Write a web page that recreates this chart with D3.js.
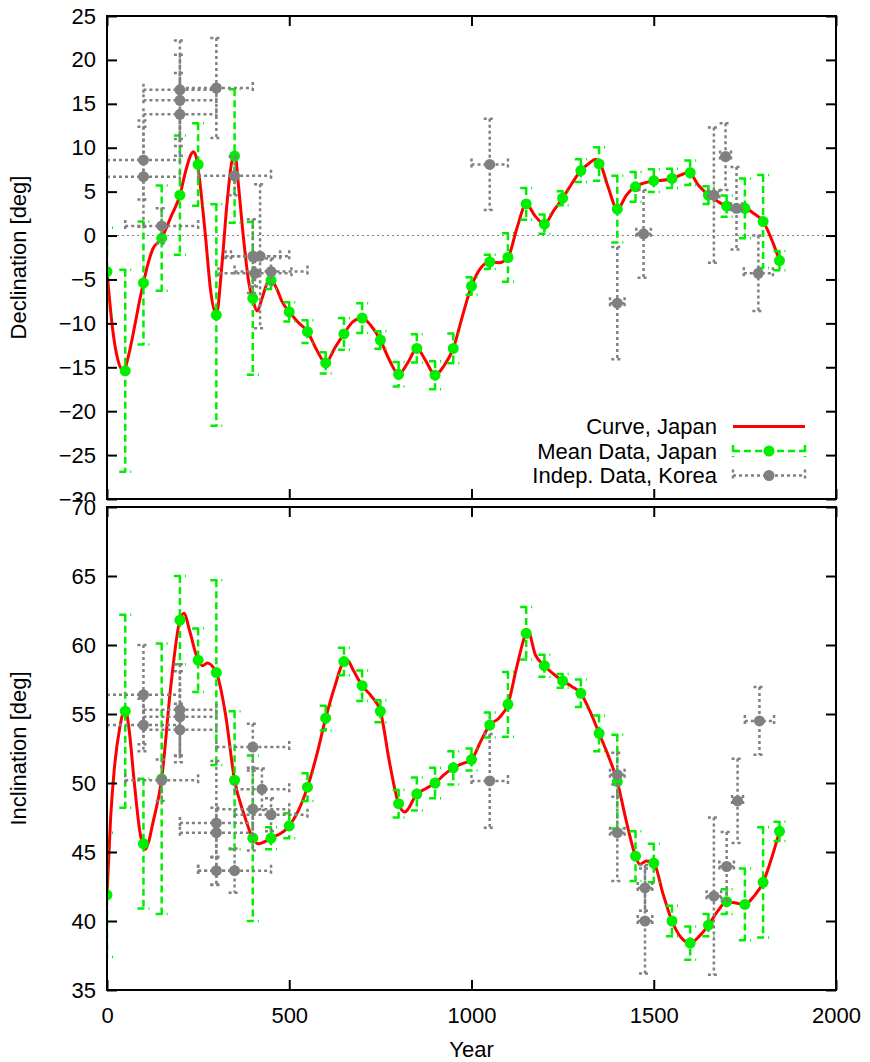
<!DOCTYPE html>
<html>
<head>
<meta charset="utf-8">
<script src="https://cdn.jsdelivr.net/npm/d3@7"></script>
<style>
  body { margin: 0; background: #fff; }
  text { font-family: "Liberation Sans", Arial, sans-serif; }
</style>
</head>
<body>
<div id="chart"></div>
<script>
// Declare data
const meanYears = [0,50,100,150,200,250,300,350,400,450,500,550,600,650,700,750,800,850,900,950,1000,
  1050,1100,1150,1200,1250,1300,1350,1400,1450,1500,1550,1600,1650,1700,1750,1800,1845];
const meanDec = [-4.1,-15.4,-5.4,-0.3,4.6,8.1,-9.05,9.05,-7.15,-5.1,-8.7,-10.95,-14.5,-11.2,-9.4,-11.9,-15.8,
  -12.85,-15.9,-12.85,-5.75,-3.0,-2.5,3.6,1.3,4.25,7.4,8.15,3.0,5.55,6.25,6.5,7.15,4.6,3.35,3.1,1.6,-2.85];
const meanDecErr = [5,11.5,7,6,6.8,4.7,12.6,7.6,8.7,1,1.1,1.3,1.2,1.8,1.7,1,1.4,1.6,1.6,1.7,1,0.8,2.75,1.8,
  1.1,0.8,1.3,1.9,3.8,1.7,1.3,1.1,1.4,1.0,1.2,3.4,5.3,1.1];
const meanInc = [41.9,55.2,45.6,50.3,61.8,58.9,58.0,50.2,46.0,46.0,46.9,49.7,54.7,58.8,57.05,55.2,48.5,49.2,
  50.0,51.1,51.7,54.2,55.7,60.85,58.5,57.4,56.5,53.6,50.1,44.7,44.2,40.0,38.4,39.7,41.4,41.2,42.8,46.5];
const meanIncErr = [4.5,7,4.7,9.8,3.2,2.3,6.7,5,6,0.8,0.9,1,0.9,1,1.1,0.8,1,1.2,1.1,1.2,0.8,0.9,2.35,1.9,
  0.8,0.5,1,1.3,3.4,1.8,1.4,1.1,1.2,0.8,0.9,2.6,4,0.7];

// curve, Japan: [year, value]
const curveDec = [[0,-4.1],[15,-10.5],[30,-14.2],[45,-15.4],[60,-13.5],[75,-10.5],[90,-7.3],[100,-5.4],
  [110,-3.6],[125,-1.6],[150,-0.3],[175,2.1],[200,4.6],[215,7.2],[230,9.2],[237,9.55],[245,8.9],[255,6.0],
  [270,0],[285,-6.5],[300,-9.0],[315,-3.5],[330,4.0],[345,8.8],[352,9.0],[360,6.0],[375,-0.5],[390,-5.6],
  [400,-7.3],[412,-8.6],[425,-7.2],[440,-5.4],[450,-5.1],[465,-6.0],[480,-7.5],[500,-8.7],[525,-9.9],
  [550,-10.95],[575,-13.0],[600,-14.5],[625,-12.8],[650,-11.2],[675,-9.8],[700,-9.4],[725,-10.3],
  [750,-11.9],[775,-14.2],[800,-15.8],[825,-14.5],[850,-12.85],[875,-14.3],[900,-15.9],[925,-14.8],
  [950,-12.85],[975,-9.2],[1000,-5.75],[1025,-3.7],[1050,-3.0],[1075,-3.1],[1100,-2.5],[1125,0.9],
  [1150,3.6],[1175,2.2],[1200,1.3],[1225,2.8],[1250,4.25],[1275,5.9],[1300,7.4],[1325,8.3],[1340,8.7],
  [1355,8.0],[1375,5.5],[1400,3.0],[1425,4.6],[1450,5.6],[1475,6.0],[1500,6.25],[1525,6.3],[1550,6.5],
  [1575,6.9],[1595,7.2],[1625,5.6],[1650,4.6],[1675,3.9],[1700,3.35],[1725,3.2],[1750,3.1],[1775,2.5],
  [1800,1.6],[1825,-0.6],[1845,-2.85]];
const curveInc = [[0,41.9],[10,47.5],[20,51.0],[35,54.0],[50,55.4],[60,54.0],[75,50.0],[90,46.5],
  [105,45.2],[115,45.8],[125,47.0],[150,50.3],[175,57.0],[200,61.8],[212,62.3],[225,61.2],[250,58.9],
  [262,58.5],[275,58.7],[300,58.0],[325,55.0],[350,50.2],[375,47.8],[400,46.0],[415,45.6],[450,46.0],
  [500,46.9],[525,48.0],[550,49.7],[575,52.0],[600,54.7],[625,57.0],[650,58.8],[660,58.9],[675,58.2],
  [700,57.05],[725,56.3],[750,55.2],[775,51.5],[800,48.5],[817,47.9],[850,49.2],[875,49.6],[900,50.0],
  [925,50.6],[950,51.1],[975,51.4],[1000,51.7],[1025,53.0],[1050,54.2],[1075,54.7],[1100,55.7],
  [1125,58.5],[1150,60.85],[1155,61.0],[1175,59.3],[1200,58.5],[1225,57.9],[1250,57.4],[1275,57.0],
  [1300,56.5],[1325,55.2],[1350,53.6],[1375,52.0],[1400,50.1],[1425,47.2],[1450,44.7],[1462,44.1],
  [1480,44.35],[1500,44.2],[1525,42.0],[1550,40.0],[1575,38.8],[1600,38.4],[1625,38.9],[1650,39.7],
  [1675,40.7],[1700,41.4],[1725,41.3],[1750,41.2],[1775,41.8],[1800,42.8],[1825,44.7],[1845,46.5]];

// indep. data, Korea: [year, value, year error, value error]
const koreaDec = [[100,8.6,100,4.5],[100,6.7,100,5.7],[150,1.1,100,2],[200,16.6,100,5.6],[200,15.4,100,5.2],
  [200,13.8,100,4.7],[300,16.8,100,5.7],[350,6.8,100,2.2],[400,-2.35,75,4.2],[420,-2.35,80,8.2],
  [406,-4.3,100,1.5],[450,-4.1,100,1.5],[1050,8.1,50,5.2],[1400,-7.7,20,6.4],[1472,0.2,20,5],
  [1665,4.6,15,7.7],[1697,9.0,15,3.8],[1727,3.1,15,4.7],[1787,-4.3,40,4.3]];
const koreaInc = [[100,56.4,100,3.6],[100,54.2,100,1.9],[150,50.2,100,1.5],[200,55.3,100,3.3],
  [200,54.8,100,3.3],[200,53.85,100,1.9],[300,47.1,100,4.5],[300,46.4,100,1.8],[300,43.65,50,1.0],
  [350,43.65,100,1.6],[400,52.6,100,1.7],[400,48.1,100,3],[425,49.55,75,1.5],[450,47.7,100,1.2],
  [1050,50.15,50,3.4],[1400,50.6,20,1.6],[1400,46.4,20,3.5],[1476,42.4,20,1.65],[1476,40.0,20,3.8],
  [1665,41.8,20,5.7],[1700,43.95,20,2.5],[1730,48.7,15,3.05],[1790,54.5,40,2.45]];

const xTicks = [0,500,1000,1500,2000];
const decTicks = [-30,-25,-20,-15,-10,-5,0,5,10,15,20,25];
const incTicks = [35,40,45,50,55,60,65,70];
const legendLabels = ["Curve, Japan","Mean Data, Japan","Indep. Data, Korea"];

const width = 870, height = 1062;
const RED = "#ff0000", GREEN = "#00ee00", GRAY = "#808080";
const FS = "22px";

const svg = d3.select("#chart").append("svg")
  .attr("width", width).attr("height", height);
svg.append("rect").attr("width", width).attr("height", height).attr("fill", "#fff");

const x = d3.scaleLinear().domain([0, 2000]).range([107, 836]);
const yDec = d3.scaleLinear().domain([-30, 25]).range([499, 16]);
const yInc = d3.scaleLinear().domain([35, 70]).range([990, 507]);

function drawPanel(id, y, ticks, curve, mean, meanErr, korea, yLabel, showX) {
  const g = svg.append("g");
  const top = y.range()[1], bot = y.range()[0];
  g.append("rect").attr("x", 0).attr("y", top - 6).attr("width", width).attr("height", bot - top + 12)
    .attr("fill", "#fff");

  g.append("clipPath").attr("id", id).append("rect")
    .attr("x", x(0)).attr("y", top).attr("width", x(2000) - x(0)).attr("height", bot - top);
  const plot = g.append("g").attr("clip-path", "url(#" + id + ")");

  if (y.domain()[0] < 0) {
    plot.append("line").attr("x1", x(0)).attr("x2", x(2000)).attr("y1", y(0)).attr("y2", y(0))
      .attr("stroke", GRAY).attr("stroke-width", 1).attr("stroke-dasharray", "2,3");
  }

  // red curve
  plot.append("path").datum(curve)
    .attr("fill", "none").attr("stroke", RED).attr("stroke-width", 3)
    .attr("d", d3.line().x(d => x(d[0])).y(d => y(d[1])).curve(d3.curveMonotoneX));

  // green mean data with y error bars
  const gm = plot.append("g").attr("stroke", GREEN).attr("stroke-width", 2.5)
    .attr("stroke-dasharray", "7,4").attr("fill", "none");
  meanYears.forEach((yr, i) => {
    const cx = x(yr), y1 = y(mean[i] + meanErr[i]), y2 = y(mean[i] - meanErr[i]);
    gm.append("line").attr("x1", cx).attr("x2", cx).attr("y1", y1).attr("y2", y2);
    gm.append("line").attr("x1", cx - 6).attr("x2", cx + 6).attr("y1", y1).attr("y2", y1);
    gm.append("line").attr("x1", cx - 6).attr("x2", cx + 6).attr("y1", y2).attr("y2", y2);
  });
  plot.append("g").selectAll("circle").data(meanYears).join("circle")
    .attr("cx", d => x(d)).attr("cy", (d, i) => y(mean[i])).attr("r", 5.5).attr("fill", GREEN);

  // gray Korean data with x and y error bars
  const gk = plot.append("g").attr("stroke", GRAY).attr("stroke-width", 2.5)
    .attr("stroke-dasharray", "3,3").attr("fill", "none");
  korea.forEach(d => {
    const cx = x(d[0]), cy = y(d[1]);
    const xa = x(d[0] - d[2]), xb = x(d[0] + d[2]);
    const ya = y(d[1] + d[3]), yb = y(d[1] - d[3]);
    gk.append("line").attr("x1", xa).attr("x2", xb).attr("y1", cy).attr("y2", cy);
    gk.append("line").attr("x1", xa).attr("x2", xa).attr("y1", cy - 6).attr("y2", cy + 6);
    gk.append("line").attr("x1", xb).attr("x2", xb).attr("y1", cy - 6).attr("y2", cy + 6);
    gk.append("line").attr("x1", cx).attr("x2", cx).attr("y1", ya).attr("y2", yb);
    gk.append("line").attr("x1", cx - 6).attr("x2", cx + 6).attr("y1", ya).attr("y2", ya);
    gk.append("line").attr("x1", cx - 6).attr("x2", cx + 6).attr("y1", yb).attr("y2", yb);
  });
  plot.append("g").selectAll("circle").data(korea).join("circle")
    .attr("cx", d => x(d[0])).attr("cy", d => y(d[1])).attr("r", 5.5).attr("fill", GRAY);

  // axes, ticks pointing inward on all four sides
  const left = g.append("g").attr("transform", `translate(${x(0)},0)`)
    .call(d3.axisLeft(y).tickValues(ticks).tickSize(-10).tickPadding(11).tickFormat(d3.format("d")));
  const right = g.append("g").attr("transform", `translate(${x(2000)},0)`)
    .call(d3.axisRight(y).tickValues(ticks).tickSize(-10).tickFormat(""));
  const topAx = g.append("g").attr("transform", `translate(0,${top})`)
    .call(d3.axisTop(x).tickValues(xTicks).tickSize(-10).tickFormat(""));
  const botAx = g.append("g").attr("transform", `translate(0,${bot})`)
    .call(d3.axisBottom(x).tickValues(xTicks).tickSize(-10).tickPadding(17)
      .tickFormat(showX ? d3.format("d") : ""));
  [left, right, topAx, botAx].forEach(a => {
    a.select(".domain").remove();
    a.selectAll(".tick line").attr("stroke", "#000").attr("stroke-width", 2);
    a.selectAll("text").attr("font-size", FS).attr("fill", "#000")
      .style("font-family", '"Liberation Sans", Arial, sans-serif');
  });

  g.append("rect").attr("x", x(0)).attr("y", top).attr("width", x(2000) - x(0)).attr("height", bot - top)
    .attr("fill", "none").attr("stroke", "#000").attr("stroke-width", 2);

  g.append("text").attr("transform", `translate(26,${(top + bot) / 2}) rotate(-90)`)
    .attr("text-anchor", "middle").attr("font-size", FS).text(yLabel);
  return g;
}

drawPanel("clipDec", yDec, decTicks, curveDec, meanDec, meanDecErr, koreaDec, "Declination [deg]", false);

// legend
const lg = svg.append("g");
const legY = [426.5, 451, 475.5];
legendLabels.forEach((t, i) => {
  lg.append("text").attr("x", 717).attr("y", legY[i]).attr("dy", "0.35em")
    .attr("text-anchor", "end").attr("font-size", FS).text(t);
});
lg.append("line").attr("x1", 733).attr("x2", 805).attr("y1", legY[0]).attr("y2", legY[0])
  .attr("stroke", RED).attr("stroke-width", 3);
[[GREEN, "7,4", legY[1]], [GRAY, "3,3", legY[2]]].forEach(s => {
  const gg = lg.append("g").attr("stroke", s[0]).attr("stroke-width", 2.5).attr("stroke-dasharray", s[1]);
  gg.append("line").attr("x1", 733).attr("x2", 805).attr("y1", s[2]).attr("y2", s[2]);
  gg.append("line").attr("x1", 733).attr("x2", 733).attr("y1", s[2] - 6).attr("y2", s[2] + 6);
  gg.append("line").attr("x1", 805).attr("x2", 805).attr("y1", s[2] - 6).attr("y2", s[2] + 6);
  lg.append("circle").attr("cx", 769).attr("cy", s[2]).attr("r", 5.5).attr("fill", s[0]);
});

drawPanel("clipInc", yInc, incTicks, curveInc, meanInc, meanIncErr, koreaInc, "Inclination [deg]", true);

svg.append("text").attr("x", (x(0) + x(2000)) / 2).attr("y", 1057)
  .attr("text-anchor", "middle").attr("font-size", FS).text("Year");
</script>
</body>
</html>
